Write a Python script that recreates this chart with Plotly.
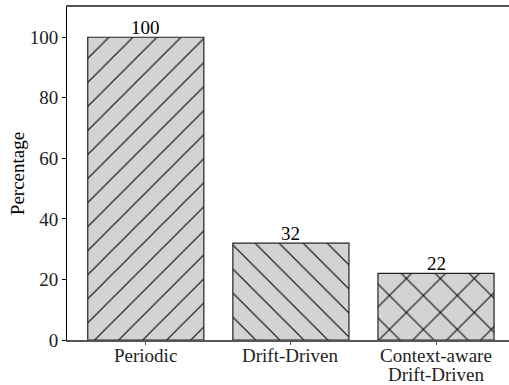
import plotly.graph_objects as go

# Share of runs per retraining strategy
categories = ["Periodic", "Drift-Driven", "Context-aware\nDrift-Driven"]
percentages = [100, 32, 22]
hatches = ["/", "\\", "x"]
hatch_sizes = [17, 17, 24]
hatch_solidity = [0.065, 0.065, 0.083]
y_ticks = [0, 20, 40, 60, 80, 100]

FONT = "Liberation Serif"
LINE_STEP = 19  # px between stacked category-label lines
x_pos = list(range(len(categories)))

fig = go.Figure()
fig.add_trace(go.Bar(
    x=x_pos,
    y=percentages,
    width=0.8,
    marker=dict(
        color="#d3d3d3",
        line=dict(color="#222222", width=1.2),
        pattern=dict(shape=hatches, fgcolor="black", bgcolor="#d3d3d3",
                     size=hatch_sizes, solidity=hatch_solidity,
                     fillmode="replace"),
    ),
    showlegend=False,
))

# value labels above each bar
for xi, v in zip(x_pos, percentages):
    fig.add_annotation(x=xi, y=v, text=str(v), showarrow=False,
                       yanchor="bottom", yshift=-3,
                       font=dict(family=FONT, size=19, color="black"))

# category labels under the axis, one annotation per text line
for xi, label in zip(x_pos, categories):
    for k, line in enumerate(label.split("\n")):
        fig.add_annotation(x=xi, y=0, text=line, showarrow=False,
                           yanchor="top", yshift=-3 - k * LINE_STEP,
                           font=dict(family=FONT, size=19, color="#222222"))

fig.update_layout(
    width=509, height=385,
    margin=dict(l=67, r=0, t=7, b=45),
    plot_bgcolor="white", paper_bgcolor="white",
    font=dict(family=FONT, size=19, color="black"),
    bargap=0.2,
)
fig.update_xaxes(
    range=[-0.543, 2.503],
    tickmode="array", tickvals=x_pos, showticklabels=False,
    showline=True, linecolor="#555555", linewidth=1.6, mirror=True,
    ticks="outside", ticklen=3, tickcolor="#555555",
    showgrid=False, zeroline=False, automargin=False,
)
fig.update_yaxes(
    range=[0, 110],
    tickmode="array", tickvals=y_ticks,
    showline=True, linecolor="black", linewidth=1,
    ticks="outside", ticklen=4, tickcolor="black",
    showgrid=False, zeroline=False, automargin=False,
    title=dict(text="Percentage", font=dict(family=FONT, size=19), standoff=0),
    tickfont=dict(family=FONT, size=19, color="#222222"),
)

fig.write_html("out.html")
